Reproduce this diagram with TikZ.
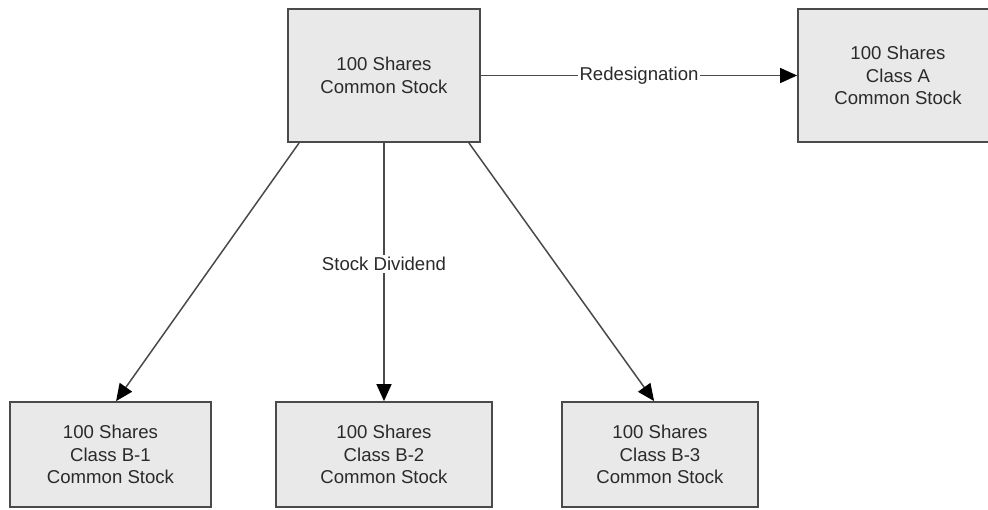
\documentclass[tikz,border=0pt]{standalone}
\usepackage{fontspec}
\setmainfont{Liberation Sans}
\usetikzlibrary{arrows.meta,calc}
\definecolor{boxfill}{HTML}{E9E9E9}
\definecolor{boxline}{HTML}{4A4A4A}
\definecolor{txt}{HTML}{2A2A2A}
\begin{document}
\begin{tikzpicture}[x=1pt,y=-1pt,
  stockbox/.style={draw=boxline,fill=boxfill,line width=1.8pt,inner sep=0pt,
    align=center,text=txt,font=\fontsize{18.6}{22.7}\selectfont},
  conn/.style={draw=boxline,line width=1.5pt,-{Triangle[length=17pt,width=15pt,fill=black,color=black]}},
  lbl/.style={fill=white,text=txt,inner sep=2pt,font=\fontsize{18.6}{22.7}\selectfont}]
\useasboundingbox (0,0) rectangle (988,509);
\clip (0,0) rectangle (988,509);
\fill[white] (0,0) rectangle (988,509);
\node[stockbox,minimum width=192pt,minimum height=133pt] (top) at (384,75.5) {100 Shares\\Common Stock};
\node[stockbox,minimum width=200pt,minimum height=133pt] (ca) at (898,75.5) {100 Shares\\Class A\\Common Stock};
\node[stockbox,minimum width=201pt,minimum height=105pt] (b1) at (110.5,454.5) {100 Shares\\Class B-1\\Common Stock};
\node[stockbox,minimum width=216pt,minimum height=105pt] (b2) at (384,454.5) {100 Shares\\Class B-2\\Common Stock};
\node[stockbox,minimum width=196pt,minimum height=105pt] (b3) at (660,454.5) {100 Shares\\Class B-3\\Common Stock};
\draw[conn] (top.east) -- node[lbl,midway] (redes) {Redesignation} (ca.west);
\draw[conn] ($(top.south west)+(12,0)$) -- ($(b1.north west)+(107,0)$);
\draw[conn] (top.south) -- node[lbl,pos=0.47] (div) {Stock Dividend} (b2.north);
\draw[conn] ($(top.south east)+(-12,0)$) -- ($(b3.north west)+(93,0)$);
\end{tikzpicture}
\end{document}
